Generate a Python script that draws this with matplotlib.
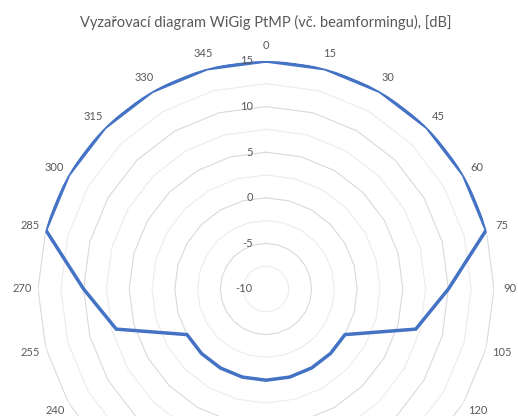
import numpy as np
import matplotlib.pyplot as plt

# radiation pattern, one value per 15 degrees
angles = list(range(0, 360, 15))
gain_db = [15, 15, 15, 15, 15, 15, 10, 7, 0, 0, 0, 0,
           0, 0, 0, 0, 0, 7, 10, 15, 15, 15, 15, 15]
r_ticks = [-10, -5, 0, 5, 10, 15]
title = "Vyzařovací diagram WiGig PtMP (vč. beamformingu), [dB]"

plt.rcParams['font.family'] = ['Lato', 'DejaVu Sans']
txt_color = '#595959'

W, H = 518, 416
fig = plt.figure(figsize=(W / 100, H / 100), dpi=100)
cx, cy, R = 266, 289, 228
ax = fig.add_axes([(cx - R) / W, (H - cy - R) / H, 2 * R / W, 2 * R / H],
                  projection='polar')
ax.set_theta_zero_location('N')
ax.set_theta_direction(-1)
ax.set_ylim(-10, 15)
ax.grid(False)
ax.set_xticks([])
ax.set_yticks([])
ax.spines['polar'].set_visible(False)

th = np.deg2rad(angles + [angles[0]])

# polygon gridlines, major every 5, minor every 2.5
for lvl in np.arange(-7.5, 15.1, 2.5):
    major = lvl % 5 == 0
    ax.plot(th, [lvl] * len(th), color='#d9d9d9' if major else '#ececec',
            lw=0.8, zorder=1)

ax.plot(th, gain_db + [gain_db[0]], color='#4472C4', lw=2.5, zorder=3,
        solid_joinstyle='round')

# category labels (the lower ones fall below the cropped picture)
for a in angles:
    if 135 <= a <= 225:
        continue
    ax.text(np.deg2rad(a), 16.75, str(a), ha='center', va='center',
            fontsize=8, color=txt_color, clip_on=False)

for v in r_ticks:
    ax.annotate(str(v), xy=(0, v), xytext=(-9.5, 0), textcoords='offset points',
                ha='right', va='center', fontsize=8, color=txt_color)

fig.text(cx / W, 1 - 26.5 / H, title, ha='center', va='baseline',
         fontsize=10.5, color=txt_color)

fig.savefig('out.png', dpi=100)
